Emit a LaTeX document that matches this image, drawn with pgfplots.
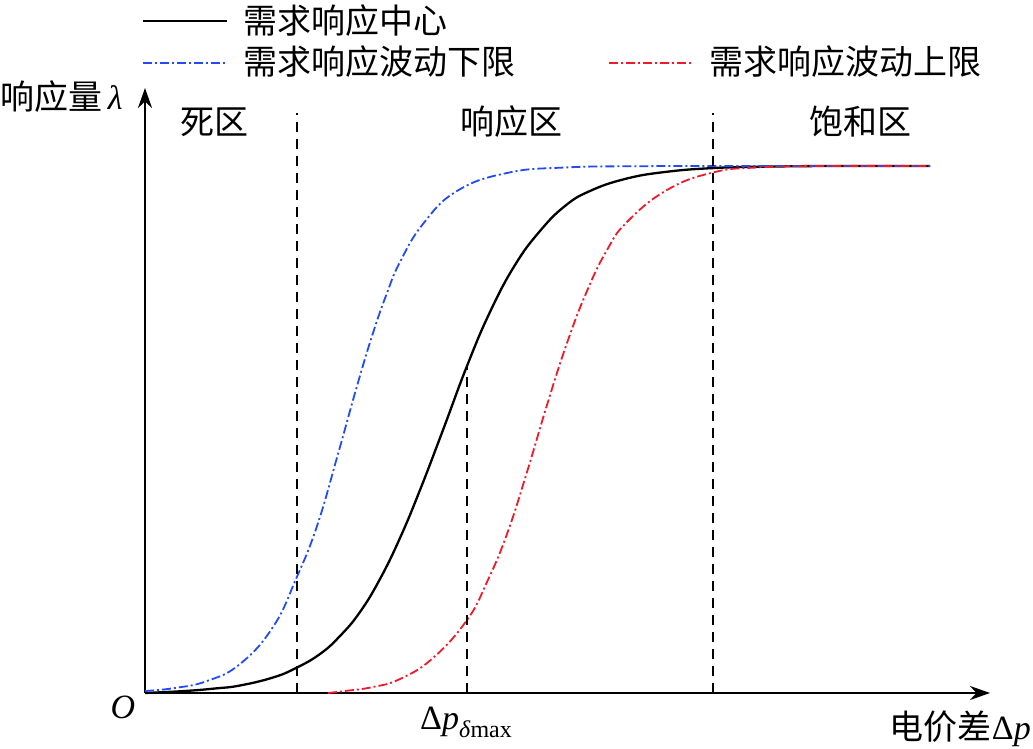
\documentclass[border=0pt]{standalone}
\usepackage{fontspec}
\setmainfont{Liberation Serif}
\newfontfamily\cjk{Noto Sans CJK SC}
\usepackage{pgfplots}
\pgfplotsset{compat=1.18}
\usetikzlibrary{arrows.meta}
\definecolor{myblue}{RGB}{35,75,245}
\definecolor{myred}{RGB}{240,25,40}
\begin{document}
\fontsize{34}{40}\selectfont
\begin{tikzpicture}
\begin{axis}[
  x=1pt, y=1pt,
  xmin=0, xmax=845, ymin=0, ymax=605,
  axis lines=left,
  axis line style={line width=2.7pt, -{Stealth[length=20pt,width=14pt]}},
  xtick=\empty, ytick=\empty,
  clip=false,
  legend columns=2,
  legend cell align=left,
  legend style={draw=none, fill=none, inner sep=0pt, at={(-0.0045,1.1388)}, anchor=north west,
    font=\fontsize{34}{40}\selectfont, row sep=8pt, nodes={inner sep=0pt},
    /tikz/column 1/.style={column sep=16pt},
    /tikz/column 2/.style={column sep=92pt},
    /tikz/column 3/.style={column sep=16pt}},
  legend image code/.code={\draw[#1] (0pt,0pt) -- (84pt,0pt);},
]
\addplot[black, line width=2.3pt, smooth, tension=0.75] coordinates {
(0,0) (40,2) (70,4.5) (95,7.5) (128,15.5) (151,25) (175,39) (195,57) (215,81) (235,114)
(255,155) (275,203) (298,263) (322,327) (345,381) (370,428) (395,462) (420,487)
(445,502) (480,514) (520,521) (570,525) (630,526.5) (700,527) (785,527)};
\addlegendentry{\cjk 需求响应中心}
\addlegendimage{empty legend}
\addlegendentry{}
\addplot[myblue, line width=1.8pt, smooth, tension=0.75, dash pattern=on 9pt off 3pt on 2pt off 3pt] coordinates {
(0,2) (30,5) (62,12) (95,29) (128,66) (151,114) (172,167) (193,239) (212,307)
(228,360) (242,400) (255,431) (278,469) (312,502) (362,520) (420,525.5) (500,526.8)
(600,527) (785,527)};
\addlegendentry{\cjk 需求响应波动下限}
\addplot[myred, line width=1.8pt, smooth, tension=0.75, dash pattern=on 9pt off 3pt on 2pt off 3pt] coordinates {
(183,0) (200,2) (228,6) (255,14) (288,35) (322,73) (342,111) (362,159) (382,221)
(402,288) (422,350) (442,402) (462,443) (482,471) (522,503) (568,520.5) (612,525.5)
(680,527) (785,527)};
\addlegendentry{\cjk 需求响应波动上限}
\addplot[black, line width=2.5pt, dash pattern=on 10pt off 7pt, forget plot] coordinates {(152,0) (152,580)};
\addplot[black, line width=2.5pt, dash pattern=on 10pt off 7pt, forget plot] coordinates {(322,0) (322,327)};
\addplot[black, line width=2.5pt, dash pattern=on 10pt off 7pt, forget plot] coordinates {(568,0) (568,580)};
\node[anchor=west, inner sep=0pt] at (axis cs:-145,596) {{\cjk 响应量}\,\textit{λ}};
\node at (axis cs:70,571) {\cjk 死区};
\node at (axis cs:366,571) {\cjk 响应区};
\node at (axis cs:715,571) {\cjk 饱和区};
\node at (axis cs:-22,-14) {\textit{O}};
\node at (axis cs:321,-29) {Δ\textit{p}\raisebox{-8pt}{\fontsize{24}{28}\selectfont\textit{δ}max}};
\node[anchor=east, inner sep=0pt] at (axis cs:886,-36) {{\cjk 电价差}Δ\textit{p}};
\path (axis cs:-145,-55) rectangle (axis cs:888,693);
\end{axis}
\end{tikzpicture}
\end{document}
